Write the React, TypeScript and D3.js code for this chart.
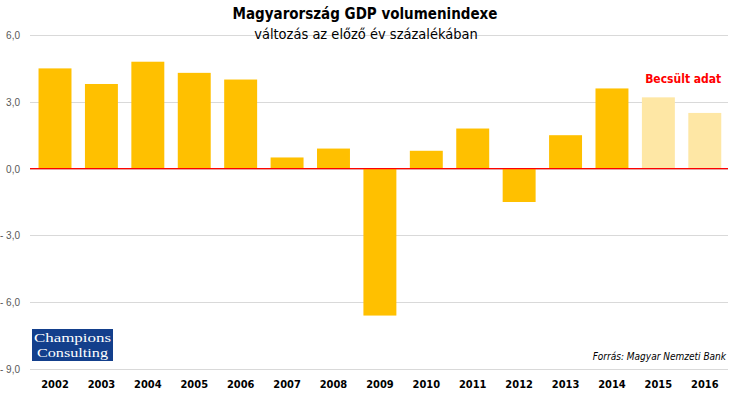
import React, { useEffect, useRef } from 'react';
import * as d3 from 'd3';

const years = ['2002', '2003', '2004', '2005', '2006', '2007', '2008', '2009', '2010', '2011', '2012', '2013', '2014', '2015', '2016'];
const growth = [4.5, 3.8, 4.8, 4.3, 4.0, 0.5, 0.9, -6.6, 0.8, 1.8, -1.5, 1.5, 3.6, 3.2, 2.5];
const estimatedYears = ['2015', '2016'];
const yTicks = [6, 3, 0, -3, -6, -9];

const fmt = (v: number) => {
  const s = Math.abs(v).toFixed(1).replace('.', ',');
  return v < 0 ? '- ' + s : s;
};

const App = () => {
  const svgRef = useRef<SVGSVGElement>(null);

  useEffect(() => {
    const W = 735;
    const H = 396;
    const svg = d3.select(svgRef.current).attr('width', W).attr('height', H);
    svg.selectAll('*').remove();

    const font = "'DejaVu Sans Condensed', 'Liberation Sans Narrow', Arial, sans-serif";
    const left = 31.8;
    const right = 728;

    const x = d3.scaleBand().domain(years).range([left, right]).paddingInner(0.29).paddingOuter(0.145);
    const y = d3.scaleLinear().domain([-9, 6]).range([369, 35]);

    // gridlines
    svg.append('g')
      .selectAll('line')
      .data(yTicks)
      .join('line')
      .attr('x1', 30)
      .attr('x2', right)
      .attr('y1', d => Math.round(y(d)) + 0.5)
      .attr('y2', d => Math.round(y(d)) + 0.5)
      .attr('stroke', '#d9d9d9')
      .attr('stroke-width', 1);

    // y labels
    svg.append('g')
      .selectAll('text')
      .data(yTicks)
      .join('text')
      .attr('x', 20)
      .attr('y', d => y(d) + 4)
      .attr('text-anchor', 'end')
      .attr('font-family', "'Liberation Sans', Arial, sans-serif")
      .attr('font-size', 10)
      .attr('fill', '#595959')
      .text(d => fmt(d));

    // bars
    svg.append('g')
      .selectAll('rect')
      .data(years)
      .join('rect')
      .attr('x', d => x(d)!)
      .attr('width', x.bandwidth())
      .attr('y', (d, i) => y(Math.max(0, growth[i])))
      .attr('height', (d, i) => Math.abs(y(growth[i]) - y(0)))
      .attr('fill', d => (estimatedYears.includes(d) ? '#fee7a5' : '#ffc000'));

    // zero line
    svg.append('line')
      .attr('x1', 30)
      .attr('x2', right)
      .attr('y1', y(0))
      .attr('y2', y(0))
      .attr('stroke', '#ff0000')
      .attr('stroke-width', 1.2);

    // x labels
    svg.append('g')
      .selectAll('text')
      .data(years)
      .join('text')
      .attr('x', d => x(d)! + x.bandwidth() / 2)
      .attr('y', 388)
      .attr('text-anchor', 'middle')
      .attr('font-family', font)
      .attr('font-size', 11)
      .attr('font-weight', 'bold')
      .attr('fill', '#000')
      .text(d => d);

    // titles
    svg.append('text')
      .attr('x', 365)
      .attr('y', 19)
      .attr('text-anchor', 'middle')
      .attr('font-family', font)
      .attr('font-size', 15)
      .attr('font-weight', 'bold')
      .attr('fill', '#000')
      .text('Magyarország GDP volumenindexe');

    svg.append('text')
      .attr('x', 366)
      .attr('y', 39)
      .attr('text-anchor', 'middle')
      .attr('font-family', font)
      .attr('font-size', 14.5)
      .attr('fill', '#000')
      .text('változás az előző év százalékában');

    // estimate note
    svg.append('text')
      .attr('x', x('2016')! + x.bandwidth())
      .attr('y', 83)
      .attr('text-anchor', 'end')
      .attr('font-family', font)
      .attr('font-size', 12)
      .attr('font-weight', 'bold')
      .attr('fill', '#ff0000')
      .text('Becsült adat');

    // source
    svg.append('text')
      .attr('x', 726)
      .attr('y', 360)
      .attr('text-anchor', 'end')
      .attr('font-family', font)
      .attr('font-size', 10)
      .attr('font-style', 'italic')
      .attr('fill', '#000')
      .text('Forrás: Magyar Nemzeti Bank');

    // logo
    const logo = svg.append('g').attr('transform', 'translate(32,329)');
    logo.append('rect').attr('width', 81).attr('height', 32).attr('fill', '#133f8c');
    logo.append('text')
      .attr('x', 2).attr('y', 12.5)
      .attr('font-family', "'Liberation Serif', 'DejaVu Serif', serif")
      .attr('font-size', 13)
      .attr('textLength', 77)
      .attr('lengthAdjust', 'spacingAndGlyphs')
      .attr('fill', '#fff')
      .text('Champions');
    logo.append('text')
      .attr('x', 5).attr('y', 28)
      .attr('font-family', "'Liberation Serif', 'DejaVu Serif', serif")
      .attr('font-size', 13)
      .attr('textLength', 71)
      .attr('lengthAdjust', 'spacingAndGlyphs')
      .attr('fill', '#fff')
      .text('Consulting');
  }, []);

  return <svg ref={svgRef} style={{ position: 'absolute', left: 0, top: 0, background: '#fff' }}></svg>;
};

export default App;
